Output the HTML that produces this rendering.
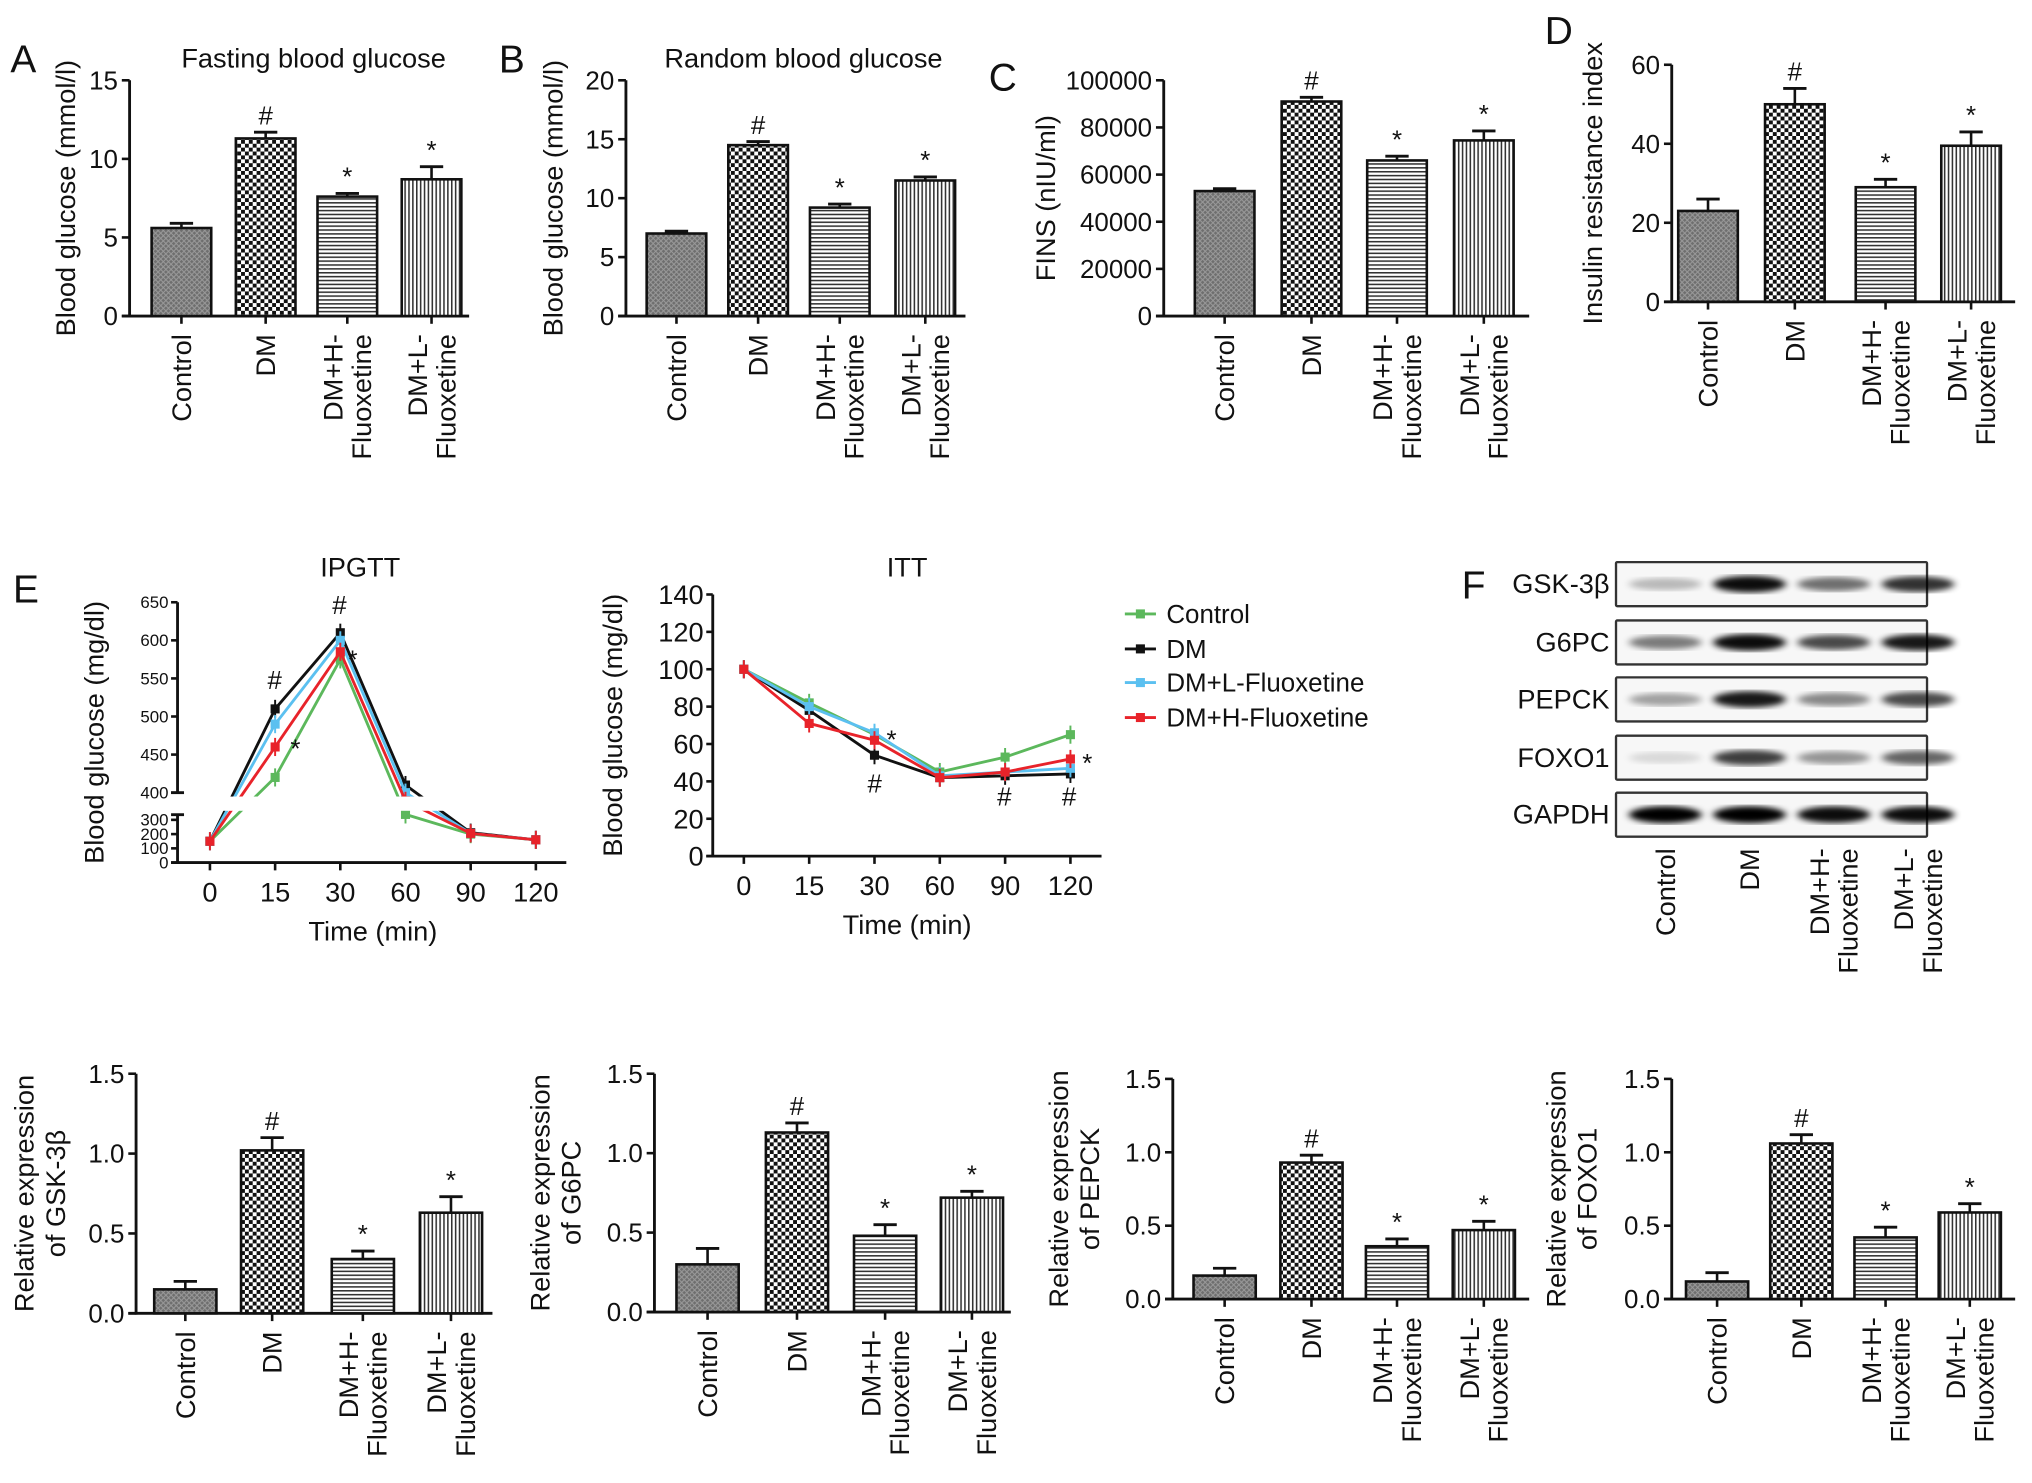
<!DOCTYPE html>
<html><head><meta charset="utf-8">
<style>
html,body{margin:0;padding:0;background:#fff;}
svg{display:block;font-family:"Liberation Sans",Arial,sans-serif;}
</style></head>
<body>
<svg id="fig" width="2032" height="1483" viewBox="0 0 1568 1145" preserveAspectRatio="none" xmlns="http://www.w3.org/2000/svg">
<defs>
<pattern id="pCtrl" width="4" height="4" patternUnits="userSpaceOnUse"><rect width="4" height="4" fill="#6e6e6e"/><path d="M0 0L4 4M4 0L0 4" stroke="#9a9a9a" stroke-width="0.8"/></pattern>
<pattern id="pDM" width="6" height="6" patternUnits="userSpaceOnUse"><rect width="6" height="6" fill="#fff"/><rect width="3" height="3" fill="#111"/><rect x="3" y="3" width="3" height="3" fill="#111"/></pattern>
<pattern id="pH" width="4" height="3" patternUnits="userSpaceOnUse"><rect width="4" height="3" fill="#fff"/><rect width="4" height="1.2" fill="#333"/></pattern>
<pattern id="pL" width="3" height="4" patternUnits="userSpaceOnUse"><rect width="3" height="4" fill="#fff"/><rect width="1.2" height="4" fill="#333"/></pattern>
<filter id="blur"><feGaussianBlur stdDeviation="3 2.2"/></filter>
</defs>
</svg>
<script>
const NS="http://www.w3.org/2000/svg";
const svg=document.getElementById('fig');
function el(tag,attrs,parent,text){const e=document.createElementNS(NS,tag);for(const k in attrs)e.setAttribute(k,attrs[k]);if(text!==undefined)e.textContent=text;(parent||svg).appendChild(e);return e;}

// ---- data ----
const groups=["Control","DM","DM+H-Fluoxetine","DM+L-Fluoxetine"];
const fastingVals=[5.6,11.3,7.6,8.7];
const fastingErr=[0.3,0.4,0.2,0.8];
const randomVals=[7.0,14.5,9.2,11.5];
const randomErr=[0.2,0.3,0.3,0.3];
const finsVals=[53000,91000,66000,74500];
const finsErr=[1000,1800,1800,4000];
const iriVals=[23,50,29,39.5];
const iriErr=[3,4,2,3.5];
const gskVals=[0.15,1.02,0.34,0.63];
const gskErr=[0.05,0.08,0.05,0.1];
const g6pcVals=[0.3,1.13,0.48,0.72];
const g6pcErr=[0.1,0.06,0.07,0.04];
const pepckVals=[0.16,0.93,0.36,0.47];
const pepckErr=[0.05,0.05,0.05,0.06];
const foxoVals=[0.12,1.06,0.42,0.59];
const foxoErr=[0.06,0.06,0.07,0.06];
const sigMarks=["","#","*","*"];
const timeLabels=["0","15","30","60","90","120"];
const ipgttControl=[150,420,575,320,200,160];
const ipgttDM=[150,510,610,410,210,160];
const ipgttL=[150,490,600,400,205,160];
const ipgttH=[150,460,585,370,205,160];
const ittControl=[100,82,65,45,53,65];
const ittDM=[100,78,54,42,43,44];
const ittL=[100,80,66,43,45,47];
const ittH=[100,71,62,42,45,52];
const blotProteins=["GSK-3β","G6PC","PEPCK","FOXO1","GAPDH"];
const blotIntensity=[[0.25,0.95,0.55,0.8],[0.5,0.95,0.7,0.9],[0.35,0.9,0.45,0.7],[0.12,0.75,0.4,0.6],[1,1,0.95,0.95]];

const fills=["url(#pCtrl)","url(#pDM)","url(#pH)","url(#pL)"];
const catLines=[["Control"],["DM"],["DM+H-","Fluoxetine"],["DM+L-","Fluoxetine"]];

function catLabels(g,xs,yTop,fs){
  xs.forEach((x,i)=>{
    const lines=catLines[i];
    lines.forEach((ln,j)=>{
      const off=(j-(lines.length-1)/2)*fs*1.05;
      const t=el('text',{x:0,y:0,transform:`translate(${x+off+fs*0.35},${yTop}) rotate(-90)`,'text-anchor':'end','font-size':fs,fill:'#111'},g,ln);
      
      
    });
  });
}

function barChart(o){
  const g=el('g',{},svg);
  
  
  const y=v=>o.y0-(v/o.max)*(o.y0-o.yTop);
  el('line',{x1:o.ax,y1:o.yTop,x2:o.ax,y2:o.y0+1,stroke:'#111','stroke-width':2.2},g);
  el('line',{x1:o.ax-6,y1:o.y0,x2:o.xEnd,y2:o.y0,stroke:'#111','stroke-width':2.2},g);
  o.ticks.forEach((t,i)=>{
    const yy=y(t);
    el('line',{x1:o.ax-6,y1:yy,x2:o.ax,y2:yy,stroke:'#111','stroke-width':2},g);
    const tt=el('text',{x:o.ax-9,y:yy+7,'text-anchor':'end','font-size':o.tfs||20,fill:'#111'},g,o.tickLabels[i]);
    
    
  });
  o.xs.forEach((x,i)=>{
    el('line',{x1:x,y1:o.y0,x2:x,y2:o.y0+6,stroke:'#111','stroke-width':2},g);
    const v=o.vals[i],e=o.err[i];
    el('line',{x1:x,y1:y(v),x2:x,y2:y(v+e),stroke:'#111','stroke-width':2},g);
    el('line',{x1:x-9,y1:y(v+e),x2:x+9,y2:y(v+e),stroke:'#111','stroke-width':2.2},g);
    const b=el('rect',{x:x-o.bw/2,y:y(v),width:o.bw,height:o.y0-y(v),fill:fills[i],stroke:'#111','stroke-width':2},g);
    
    
    if(sigMarks[i]){
      const s=el('text',{x:x,y:y(v+e)-6,'text-anchor':'middle','font-size':20,fill:'#111'},g,sigMarks[i]);
      
      
    }
  });
  const yl=o.ylab;
  yl.forEach((ln,j)=>{
    const off=(j-(yl.length-1)/2)*24;
    const t=el('text',{transform:`translate(${o.ylx+off},${(o.yTop+o.y0)/2}) rotate(-90)`,'text-anchor':'middle','font-size':21,fill:'#111'},g,ln);
    
    
  });
  if(o.title){const t=el('text',{x:o.titleX,y:o.titleY,'text-anchor':'middle','font-size':21,fill:'#111'},g,o.title);
    }
  if(o.letter){const t=el('text',{x:o.lx,y:o.ly,'font-size':30,fill:'#111'},g,o.letter);
    }
  catLabels(g,o.xs,o.y0+14,21);
}

barChart({name:'fasting-glucose-chart',ax:100,yTop:62,y0:244,xEnd:362,max:15,ticks:[0,5,10,15],tickLabels:["0","5","10","15"],xs:[140,205,268,333],bw:46,vals:fastingVals,err:fastingErr,ylab:["Blood glucose (mmol/l)"],ylx:58,title:"Fasting blood glucose",titleX:242,titleY:52,letter:"A",lx:8,ly:56});
barChart({name:'random-glucose-chart',ax:483,yTop:62,y0:244,xEnd:745,max:20,ticks:[0,5,10,15,20],tickLabels:["0","5","10","15","20"],xs:[522,585,648,714],bw:46,vals:randomVals,err:randomErr,ylab:["Blood glucose (mmol/l)"],ylx:434,title:"Random blood glucose",titleX:620,titleY:52,letter:"B",lx:385,ly:56});
barChart({name:'fins-chart',ax:898,yTop:62,y0:244,xEnd:1180,max:100000,ticks:[0,20000,40000,60000,80000,100000],tickLabels:["0","20000","40000","60000","80000","100000"],xs:[945,1012,1078,1145],bw:46,vals:finsVals,err:finsErr,ylab:["FINS (nIU/ml)"],ylx:814,letter:"C",lx:763,ly:70});
barChart({name:'insulin-resistance-chart',ax:1290,yTop:50,y0:233,xEnd:1555,max:60,ticks:[0,20,40,60],tickLabels:["0","20","40","60"],xs:[1318,1385,1455,1521],bw:46,vals:iriVals,err:iriErr,ylab:["Insulin resistance index"],ylx:1236,letter:"D",lx:1192,ly:34});

barChart({name:'gsk3b-expression-chart',ax:105,yTop:829,y0:1014,xEnd:380,max:1.5,ticks:[0,0.5,1,1.5],tickLabels:["0.0","0.5","1.0","1.5"],xs:[143,210,280,348],bw:48,vals:gskVals,err:gskErr,ylab:["Relative expression","of GSK-3β"],ylx:38});
barChart({name:'g6pc-expression-chart',ax:505,yTop:829,y0:1013,xEnd:780,max:1.5,ticks:[0,0.5,1,1.5],tickLabels:["0.0","0.5","1.0","1.5"],xs:[546,615,683,750],bw:48,vals:g6pcVals,err:g6pcErr,ylab:["Relative expression","of G6PC"],ylx:436});
barChart({name:'pepck-expression-chart',ax:905,yTop:833,y0:1003,xEnd:1180,max:1.5,ticks:[0,0.5,1,1.5],tickLabels:["0.0","0.5","1.0","1.5"],xs:[945,1012,1078,1145],bw:48,vals:pepckVals,err:pepckErr,ylab:["Relative expression","of PEPCK"],ylx:836});
barChart({name:'foxo1-expression-chart',ax:1290,yTop:833,y0:1003,xEnd:1555,max:1.5,ticks:[0,0.5,1,1.5],tickLabels:["0.0","0.5","1.0","1.5"],xs:[1325,1390,1455,1520],bw:48,vals:foxoVals,err:foxoErr,ylab:["Relative expression","of FOXO1"],ylx:1220});

// ---- line charts ----
const colors=["#5cb85c","#111111","#5bc0f0","#e8232a"];
const seriesNames=["Control","DM","DM+L-Fluoxetine","DM+H-Fluoxetine"];
function lineChart(o){
  const g=el('g',{},svg);
  
  
  const xp=i=>o.x0+i*o.dx;
  o.series.forEach((s,k)=>{
    const pts=s.map((v,i)=>xp(i)+','+o.y(v)).join(' ');
    const pl=el('polyline',{points:pts,fill:'none',stroke:colors[k],'stroke-width':2.2},g);
    
    
    s.forEach((v,i)=>{
      const c=el('rect',{x:xp(i)-3.5,y:o.y(v)-3.5,width:7,height:7,fill:colors[k]},g);
      
      el('line',{x1:xp(i),y1:o.y(v)-7,x2:xp(i),y2:o.y(v)+7,stroke:colors[k],'stroke-width':1.5},g);
    });
  });
  if(o.yBreakTop!==undefined) el('rect',{x:o.ax+3,y:o.yBreakTop+3,width:o.xEnd-o.ax,height:o.yBreakBot-o.yBreakTop-6,fill:'#fff'},g);
  el('line',{x1:o.ax,y1:o.yTop,x2:o.ax,y2:o.yBreakTop!==undefined?o.yBreakTop:o.y0,stroke:'#111','stroke-width':2.2},g);
  if(o.yBreakTop!==undefined){
    el('line',{x1:o.ax,y1:o.yBreakBot,x2:o.ax,y2:o.y0,stroke:'#111','stroke-width':2.2},g);
    el('line',{x1:o.ax-5,y1:o.yBreakTop,x2:o.ax+5,y2:o.yBreakTop,stroke:'#111','stroke-width':2.2},g);
    el('line',{x1:o.ax-5,y1:o.yBreakBot,x2:o.ax+5,y2:o.yBreakBot,stroke:'#111','stroke-width':2.2},g);
  }
  el('line',{x1:o.ax-5,y1:o.y0,x2:o.xEnd,y2:o.y0,stroke:'#111','stroke-width':2.2},g);
  o.ticks.forEach((t,i)=>{const yy=o.y(t);
    el('line',{x1:o.ax-5,y1:yy,x2:o.ax,y2:yy,stroke:'#111','stroke-width':2},g);
    const tt=el('text',{x:o.ax-7,y:yy+o.tfs*0.35,'text-anchor':'end','font-size':o.tfs,fill:'#111'},g,o.tickLabels[i]);
    });
  timeLabels.forEach((l,i)=>{
    el('line',{x1:xp(i),y1:o.y0,x2:xp(i),y2:o.y0+6,stroke:'#111','stroke-width':2},g);
    const t=el('text',{x:xp(i),y:o.y0+30,'text-anchor':'middle','font-size':21,fill:'#111'},g,l);
    
  });
  const xt=el('text',{x:(o.x0+xp(5))/2,y:o.y0+60,'text-anchor':'middle','font-size':21,fill:'#111'},g,"Time (min)");
  
  const yt=el('text',{transform:`translate(${o.ylx},${(o.yTop+o.y0)/2}) rotate(-90)`,'text-anchor':'middle','font-size':21,fill:'#111'},g,"Blood glucose (mg/dl)");
  
  const ti=el('text',{x:o.titleX,y:o.titleY,'text-anchor':'middle','font-size':21,fill:'#111'},g,o.title);
  
  o.marks.forEach(m=>{const t=el('text',{x:m[0],y:m[1],'text-anchor':'middle','font-size':20,fill:'#111'},g,m[2]);
    });
}
function ipY(v){ if(v>=400) return 612-(v-400)/250*147; if(v<=300) return 666-v/300*33; return 633-(v-300)/100*21; }
lineChart({name:'ipgtt-chart',ax:137,yTop:465,y0:666,yBreakTop:612,yBreakBot:629,xEnd:437,x0:162,dx:50.3,y:ipY,
  ticks:[0,100,200,300,400,450,500,550,600,650],tickLabels:["0","100","200","300","400","450","500","550","600","650"],tfs:13,
  ylx:80,title:"IPGTT",titleX:278,titleY:445,series:[ipgttControl,ipgttDM,ipgttL,ipgttH],
  marks:[[212,532,"#"],[262,474,"#"],[228,585,"*"],[272,516,"*"]]});
lineChart({name:'itt-chart',ax:550,yTop:459,y0:661,xEnd:850,x0:574,dx:50.4,y:v=>661-v/140*202,
  ticks:[0,20,40,60,80,100,120,140],tickLabels:["0","20","40","60","80","100","120","140"],tfs:21,
  ylx:480,title:"ITT",titleX:700,titleY:445,series:[ittControl,ittDM,ittL,ittH],
  marks:[[675,612,"#"],[775,622,"#"],[825,622,"#"],[688,578,"*"],[839,596,"*"]]});
const eL=el('text',{x:10,y:465,'font-size':30,fill:'#111'},svg,"E");


// legend
const lg=el('g',{},svg);


[474,501,527,554].forEach((yy,k)=>{
  el('line',{x1:868,y1:yy,x2:892,y2:yy,stroke:colors[k],'stroke-width':2.2},lg);
  el('rect',{x:876.5,y:yy-3.5,width:7,height:7,fill:colors[k]},lg);
  const t=el('text',{x:900,y:yy+7,'font-size':20,fill:'#111'},lg,seriesNames[k]);
  
});

// ---- western blot ----
const bg=el('g',{},svg);


const fL=el('text',{x:1128,y:462,'font-size':30,fill:'#111'},bg,"F");

const laneX=[1285,1350,1415,1480];
const rowY=[434,479,523,568,612];
blotProteins.forEach((p,r)=>{
  const y=rowY[r];
  el('rect',{x:1247,y:y,width:240,height:34,fill:'#f7f7f7',stroke:'#333','stroke-width':1.8,rx:1},bg);
  laneX.forEach((x,i)=>{
    const a=blotIntensity[r][i];
    const b=el('ellipse',{cx:x,cy:y+17,rx:28,ry:4+a*2.5,fill:'#000',opacity:a,filter:'url(#blur)'},bg);
    
  });
  const t=el('text',{x:1242,y:y+24,'text-anchor':'end','font-size':21,fill:'#111'},bg,p);
  
});
catLabels(bg,laneX,655,21);
</script>
</body></html>
